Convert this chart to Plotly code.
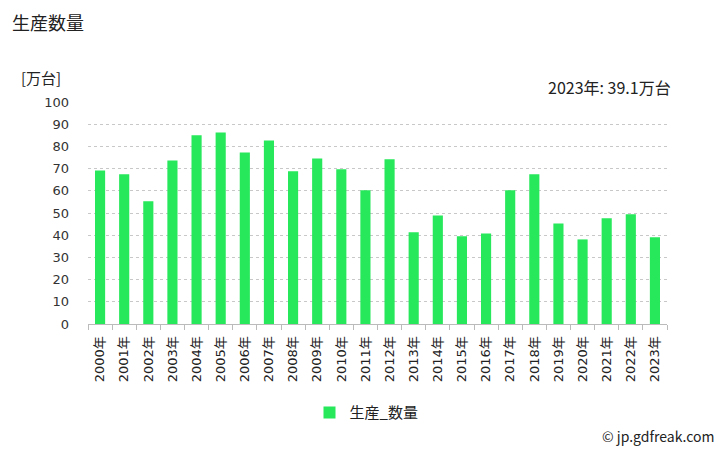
import plotly.graph_objects as go

years = [f"{y}年" for y in range(2000, 2024)]
values = [69.2, 67.4, 55.3, 73.7, 85.0, 86.3, 77.3, 82.7, 68.8, 74.6,
          69.7, 60.2, 74.2, 41.3, 48.9, 39.5, 40.8, 60.2, 67.4, 45.3,
          38.1, 47.6, 49.4, 39.1]
series_name = "生産_数量"
title_text = "生産数量"
unit_text = "[万台]"
note_text = "2023年: 39.1万台"
credit_text = "© jp.gdfreak.com"

FONT = "DejaVu Sans, Noto Sans CJK JP, sans-serif"
JP = "Noto Sans CJK JP, sans-serif"

fig = go.Figure()
fig.add_trace(go.Bar(x=years, y=values, name=series_name,
                     marker=dict(color="#26E85A", line=dict(width=0))))

fig.update_layout(
    width=728, height=450,
    margin=dict(l=88, r=61, t=102, b=126),
    paper_bgcolor="white", plot_bgcolor="white",
    bargap=0.58,
    font=dict(family=FONT, size=13, color="#333"),
    showlegend=True,
    legend=dict(orientation="h", x=0.5 - 11/579, xanchor="center", y=-0.40, yanchor="middle",
                font=dict(family=JP, size=15, color="#222")),
    xaxis=dict(type="category", tickangle=-90, tickson="boundaries",
               ticks="outside", ticklen=5, tickcolor="#bbb",
               showline=True, linecolor="#bbb", showgrid=False,
               ticklabelstandoff=6,
               tickfont=dict(family=FONT, size=13, color="#222")),
    yaxis=dict(range=[0, 100], dtick=10, showgrid=True, gridcolor="#c8c8c8",
               griddash="dot", zeroline=False, showline=False,
               tickfont=dict(family=FONT, size=13, color="#333"), ticks="", ticklabelstandoff=18),
    annotations=[
        dict(text=title_text, xref="paper", yref="paper", x=(10-88)/579, y=(324-22)/222,
             xanchor="left", yanchor="middle", showarrow=False,
             font=dict(family=JP, size=18, color="#222")),
        dict(text=unit_text, xref="paper", yref="paper", x=(19-88)/579, y=(324-77)/222,
             xanchor="left", yanchor="middle", showarrow=False,
             font=dict(family=JP, size=15, color="#222")),
        dict(text=note_text, xref="paper", yref="paper", x=1 + 6/579, y=(324-87)/222,
             xanchor="right", yanchor="middle", showarrow=False,
             font=dict(family=JP, size=16, color="#222")),
        dict(text=credit_text, xref="paper", yref="paper", x=1 + 50/579, y=(324-436)/222,
             xanchor="right", yanchor="middle", showarrow=False,
             font=dict(family=JP, size=14, color="#222")),
    ],
)

fig.write_html("out.html")
